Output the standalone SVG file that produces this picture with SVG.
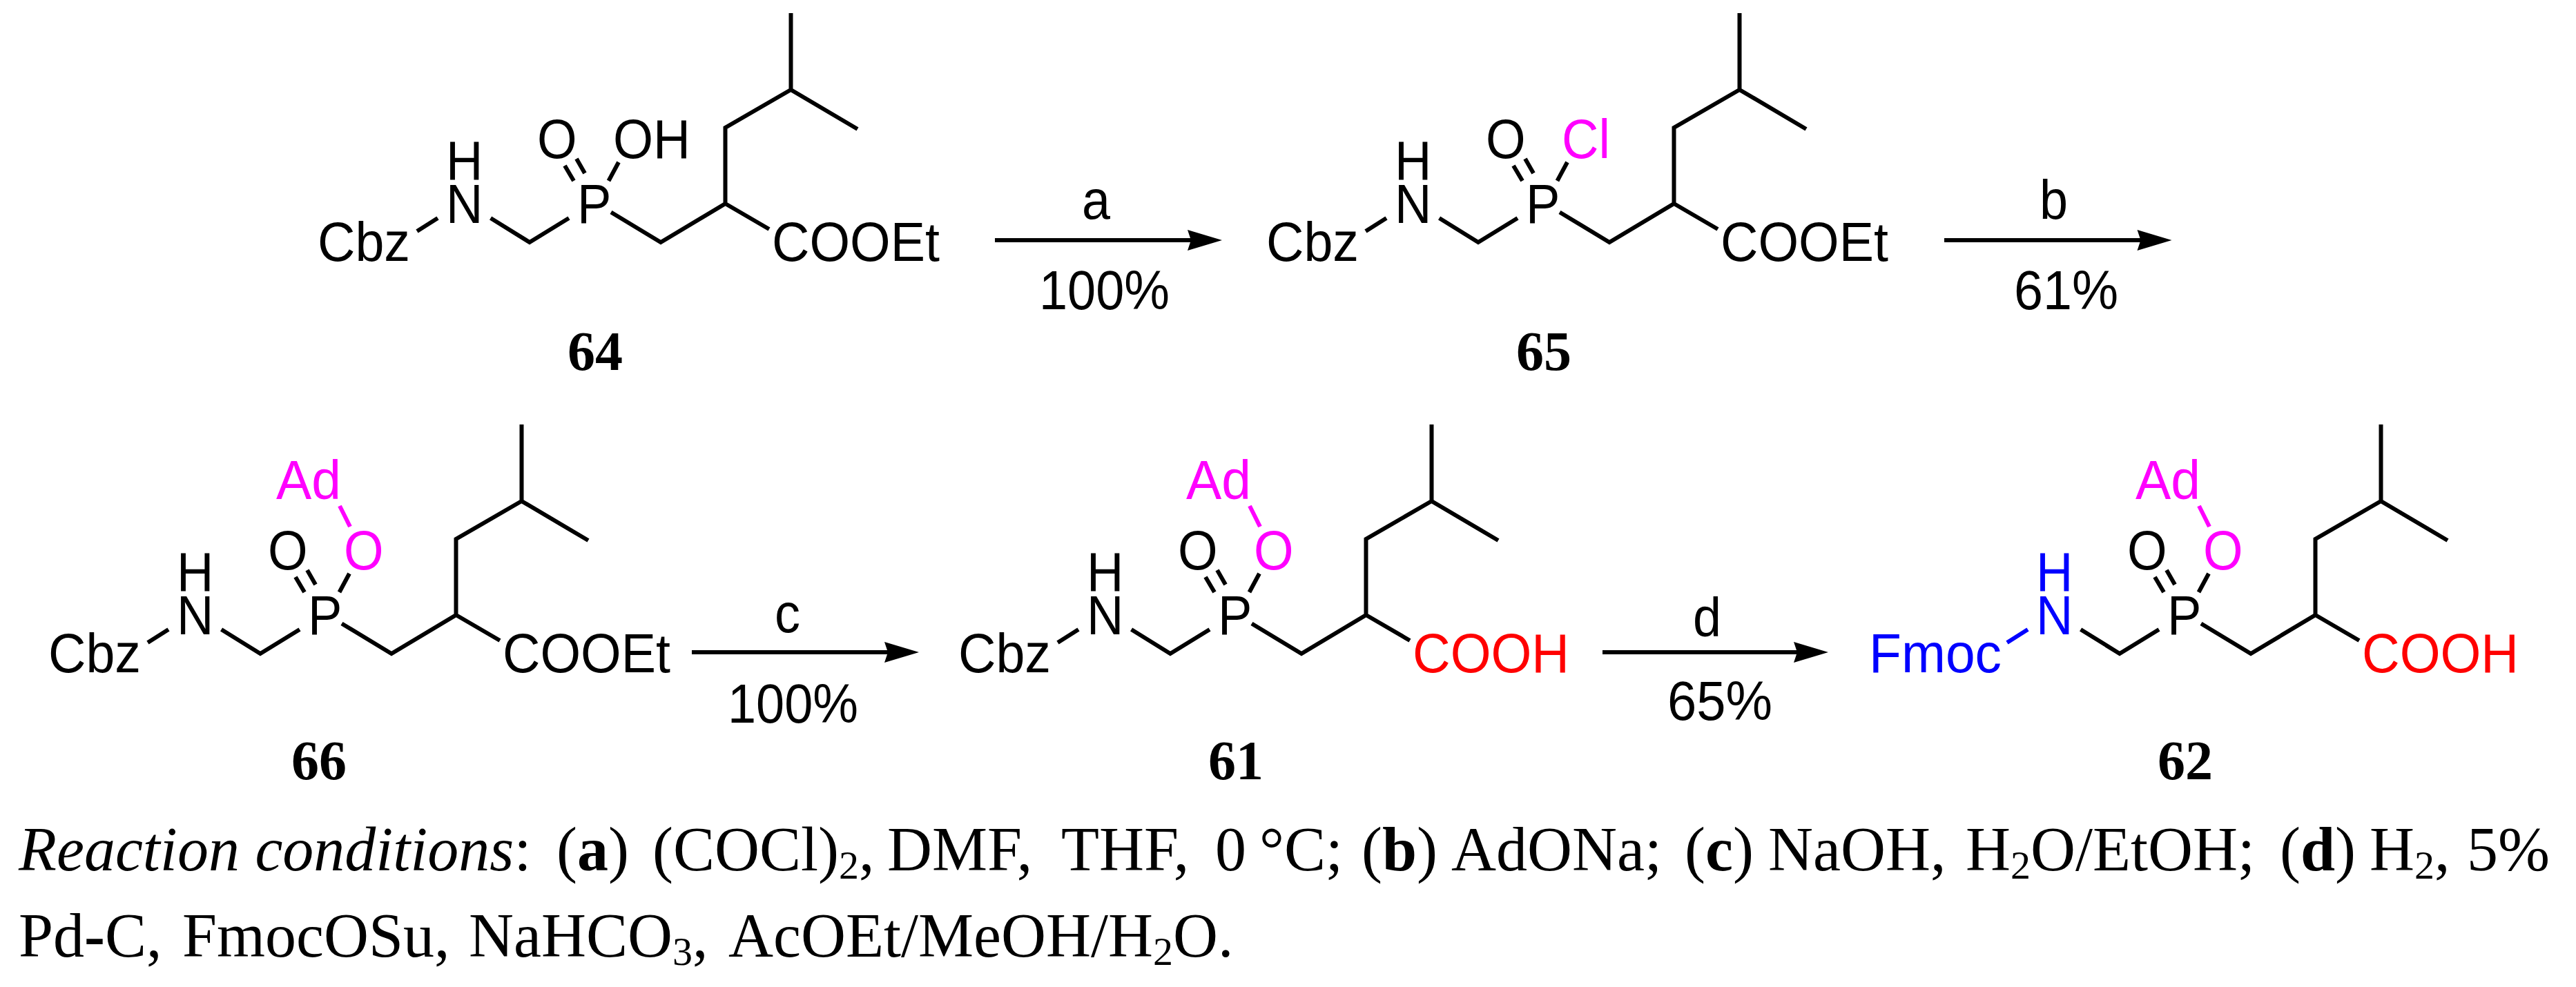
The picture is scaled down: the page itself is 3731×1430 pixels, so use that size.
<svg xmlns="http://www.w3.org/2000/svg" width="3731" height="1430" viewBox="0 0 3731 1430">
<style>
.bg{fill:#fff}
.b{fill:none;stroke:#000;stroke-width:6;stroke-linecap:butt;stroke-linejoin:miter}
.bm{fill:none;stroke:#f0f;stroke-width:6}
.bb{fill:none;stroke:#00f;stroke-width:6}
text{font-family:"Liberation Sans",Arial,sans-serif;font-size:79px;fill:#000}
.m{fill:#f0f}.r{fill:#f00}.u{fill:#00f}
text.id{font-family:"Liberation Serif","Times New Roman",serif;font-weight:bold;font-size:80px}
text.cap{font-family:"Liberation Serif","Times New Roman",serif;font-size:90px}
.it{font-style:italic}.bd{font-weight:bold}
.sub{font-size:58px}
.arr{stroke:#000;stroke-width:6;fill:none}
.hd{fill:#000}
</style>
<defs>
<path id="skel" class="b" d="M1145.5 19V130L1242 187M1145.5 130L1050.5 185V295L957 351L885 307.5M1050.5 295L1114 332M710.6 316L767 351L824 316M831 262L818 240M847 251L835 230M881.5 262L896 235"/>
<path id="nbond" d="M604 335L634 316"/>
<path id="aobond" class="bm" d="M897 167L882 137"/>
<path id="head" class="hd" d="M0 0L-50 -15L-45 0L-50 15Z"/>
</defs>
<rect class="bg" width="3731" height="1430"/>

<g id="node-64">
<use href="#skel"/><use href="#nbond" class="b"/>
<text x="460" y="378" textLength="134" lengthAdjust="spacingAndGlyphs">Cbz</text><text x="646" y="323" textLength="53.4" lengthAdjust="spacingAndGlyphs">N</text><text x="646" y="260" textLength="53.4" lengthAdjust="spacingAndGlyphs">H</text><text x="836" y="323" textLength="49.4" lengthAdjust="spacingAndGlyphs">P</text><text x="778" y="229" textLength="57.6" lengthAdjust="spacingAndGlyphs">O</text><text x="888" y="229" textLength="112" lengthAdjust="spacingAndGlyphs">OH</text><text x="1118" y="378" textLength="243" lengthAdjust="spacingAndGlyphs">COOEt</text>
<text class="id" x="822" y="536">64</text>
</g>
<g id="node-65" transform="translate(1374 0)">
<use href="#skel"/><use href="#nbond" class="b"/>
<text x="460" y="378" textLength="134" lengthAdjust="spacingAndGlyphs">Cbz</text><text x="646" y="323" textLength="53.4" lengthAdjust="spacingAndGlyphs">N</text><text x="646" y="260" textLength="53.4" lengthAdjust="spacingAndGlyphs">H</text><text x="836" y="323" textLength="49.4" lengthAdjust="spacingAndGlyphs">P</text><text x="778" y="229" textLength="57.6" lengthAdjust="spacingAndGlyphs">O</text><text class="m" x="888" y="229" textLength="69.9" lengthAdjust="spacingAndGlyphs">Cl</text><text x="1118" y="378" textLength="243" lengthAdjust="spacingAndGlyphs">COOEt</text>
<text class="id" x="822" y="536">65</text>
</g>
<g id="node-66" transform="translate(-390 596)">
<use href="#skel"/><use href="#nbond" class="b"/><use href="#aobond"/>
<text x="460" y="378" textLength="134" lengthAdjust="spacingAndGlyphs">Cbz</text><text x="646" y="323" textLength="53.4" lengthAdjust="spacingAndGlyphs">N</text><text x="646" y="260" textLength="53.4" lengthAdjust="spacingAndGlyphs">H</text><text x="836" y="323" textLength="49.4" lengthAdjust="spacingAndGlyphs">P</text><text x="778" y="229" textLength="57.6" lengthAdjust="spacingAndGlyphs">O</text><text class="m" x="888" y="229" textLength="57.6" lengthAdjust="spacingAndGlyphs">O</text><text class="m" x="790" y="127" textLength="94" lengthAdjust="spacingAndGlyphs">Ad</text><text x="1118" y="378" textLength="243" lengthAdjust="spacingAndGlyphs">COOEt</text>
<text class="id" x="812" y="533">66</text>
</g>
<g id="node-61" transform="translate(928 596)">
<use href="#skel"/><use href="#nbond" class="b"/><use href="#aobond"/>
<text x="460" y="378" textLength="134" lengthAdjust="spacingAndGlyphs">Cbz</text><text x="646" y="323" textLength="53.4" lengthAdjust="spacingAndGlyphs">N</text><text x="646" y="260" textLength="53.4" lengthAdjust="spacingAndGlyphs">H</text><text x="836" y="323" textLength="49.4" lengthAdjust="spacingAndGlyphs">P</text><text x="778" y="229" textLength="57.6" lengthAdjust="spacingAndGlyphs">O</text><text class="m" x="888" y="229" textLength="57.6" lengthAdjust="spacingAndGlyphs">O</text><text class="m" x="790" y="127" textLength="94" lengthAdjust="spacingAndGlyphs">Ad</text><text class="r" x="1118" y="378" textLength="227" lengthAdjust="spacingAndGlyphs">COOH</text>
<text class="id" x="822" y="533">61</text>
</g>
<g id="node-62" transform="translate(2303 596)">
<use href="#skel"/><use href="#nbond" class="bb"/><use href="#aobond"/>
<text class="u" x="404" y="378" textLength="192" lengthAdjust="spacingAndGlyphs">Fmoc</text><text class="u" x="646" y="323" textLength="53.4" lengthAdjust="spacingAndGlyphs">N</text><text class="u" x="646" y="260" textLength="53.4" lengthAdjust="spacingAndGlyphs">H</text><text x="836" y="323" textLength="49.4" lengthAdjust="spacingAndGlyphs">P</text><text x="778" y="229" textLength="57.6" lengthAdjust="spacingAndGlyphs">O</text><text class="m" x="888" y="229" textLength="57.6" lengthAdjust="spacingAndGlyphs">O</text><text class="m" x="790" y="127" textLength="94" lengthAdjust="spacingAndGlyphs">Ad</text><text class="r" x="1118" y="378" textLength="227" lengthAdjust="spacingAndGlyphs">COOH</text>
<text class="id" x="822" y="533">62</text>
</g>

<g id="connectors">
<path class="arr" d="M1441 348H1730"/><use href="#head" x="1770" y="348"/>
<path class="arr" d="M2816 348H3105"/><use href="#head" x="3145.5" y="348"/>
<path class="arr" d="M1002 945H1291"/><use href="#head" x="1331" y="945"/>
<path class="arr" d="M2321 945H2608"/><use href="#head" x="2648" y="945"/>
</g>
<g id="labels">
<text x="1567" y="317" textLength="41" lengthAdjust="spacingAndGlyphs">a</text><text x="1505" y="448" textLength="189" lengthAdjust="spacingAndGlyphs">100%</text>
<text x="2954" y="317" textLength="41" lengthAdjust="spacingAndGlyphs">b</text><text x="2917" y="448" textLength="151" lengthAdjust="spacingAndGlyphs">61%</text>
<text x="1122" y="916" textLength="37" lengthAdjust="spacingAndGlyphs">c</text><text x="1054" y="1047" textLength="189" lengthAdjust="spacingAndGlyphs">100%</text>
<text x="2452" y="922" textLength="41" lengthAdjust="spacingAndGlyphs">d</text><text x="2415" y="1043" textLength="152" lengthAdjust="spacingAndGlyphs">65%</text>
</g>
<g id="caption">
<text class="cap" y="1261"><tspan x="27" class="it">Reaction conditions</tspan><tspan>:</tspan><tspan x="806">(</tspan><tspan class="bd">a</tspan><tspan>)</tspan><tspan x="945">(COCl)</tspan><tspan class="sub" dy="12">2</tspan><tspan dy="-12">,</tspan><tspan x="1285">DMF,</tspan><tspan x="1537">THF,</tspan><tspan x="1760">0</tspan><tspan x="1824">°C;</tspan><tspan x="1972">(</tspan><tspan class="bd">b</tspan><tspan>)</tspan><tspan x="2102">AdONa;</tspan><tspan x="2440">(</tspan><tspan class="bd">c</tspan><tspan>)</tspan><tspan x="2561">NaOH,</tspan><tspan x="2847">H</tspan><tspan class="sub" dy="12">2</tspan><tspan dy="-12">O/EtOH;</tspan><tspan x="3302">(</tspan><tspan class="bd">d</tspan><tspan>)</tspan><tspan x="3432">H</tspan><tspan class="sub" dy="12">2</tspan><tspan dy="-12">,</tspan><tspan x="3573">5%</tspan></text>
<text class="cap" y="1386"><tspan x="27">Pd</tspan><tspan class="bd">-</tspan><tspan>C,</tspan><tspan x="264">FmocOSu,</tspan><tspan x="679">NaHCO</tspan><tspan class="sub" dy="12">3</tspan><tspan dy="-12">,</tspan><tspan x="1055">AcOEt/MeOH/H</tspan><tspan class="sub" dy="12">2</tspan><tspan dy="-12">O.</tspan></text>
</g>
</svg>
